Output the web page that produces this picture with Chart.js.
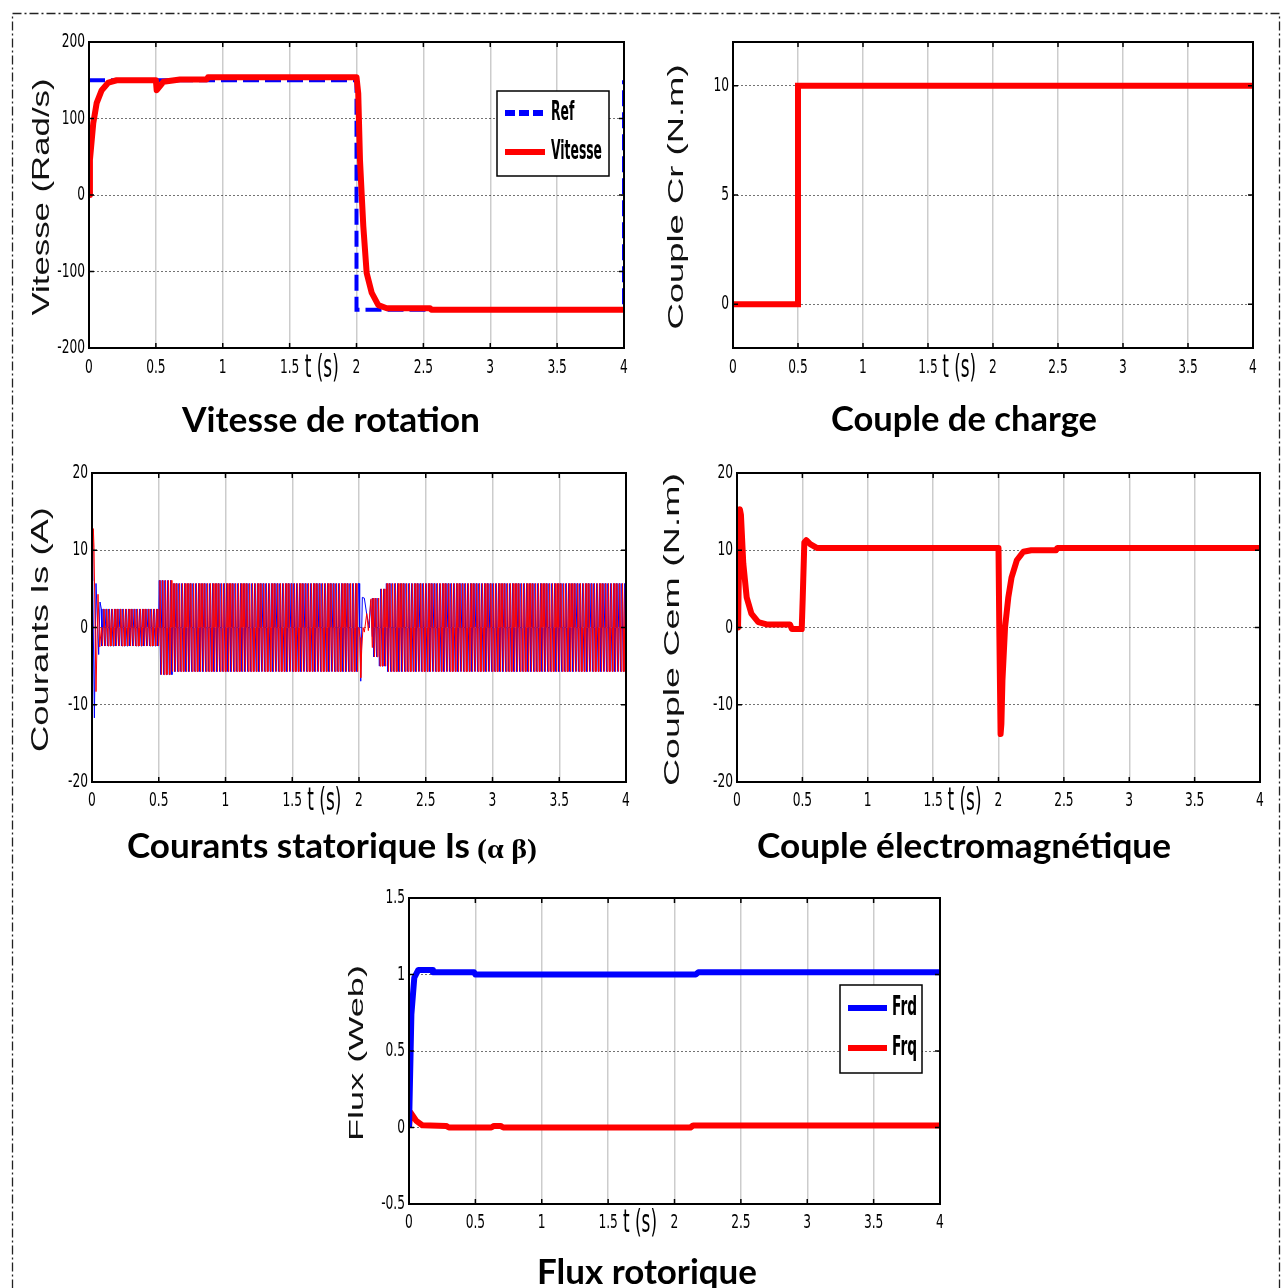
<!DOCTYPE html>
<html lang="fr">
<head>
<meta charset="utf-8">
<title>Résultats de simulation - commande vectorielle</title>
<script src="https://cdn.jsdelivr.net/npm/chart.js@4.4.1/dist/chart.umd.min.js"></script>
<style>
  body { margin: 0; background: #fff; }
  #page { position: relative; width: 1283px; height: 1288px; overflow: hidden; background: #fff; }
  #page canvas { position: absolute; }
</style>
</head>
<body>
<div id="page">
  <canvas id="cadre" width="1283" height="1288" style="left:0;top:0"></canvas>
  <canvas id="graphe-vitesse"></canvas>
  <canvas id="graphe-cr"></canvas>
  <canvas id="graphe-is"></canvas>
  <canvas id="graphe-cem"></canvas>
  <canvas id="graphe-flux"></canvas>
</div>
<script>
// Valeurs
const ticksTemps = [0, 0.5, 1, 1.5, 2, 2.5, 3, 3.5, 4];

// Vitesse de rotation
const tempsRef = [0, 2, 2, 4, 4];
const vitesseRef = [150, 150, -150, -150, 150];
const tempsVitesse = [0, 0.007, 0.032, 0.057, 0.095, 0.145, 0.207, 0.5, 0.506, 0.556, 0.68, 0.88, 0.89, 2.0, 2.013, 2.026, 2.039, 2.051, 2.076, 2.114, 2.163, 2.226, 2.55, 2.56, 4];
const vitesseMesuree = [0, 46, 94, 120, 137, 147, 150, 150, 137, 148, 151, 151, 154, 154, 133, 46, 0, -41, -102, -128, -144, -148, -148, -150, -150];
const ticksVitesse = [-200, -100, 0, 100, 200];

// Couple de charge
const tempsCr = [0, 0.5, 0.5, 4];
const coupleCr = [0, 0, 10, 10];
const ticksCr = [0, 5, 10];

// Courants statoriques : transitoires relevés point par point
const tempsIsaDebut = [0, 0.01, 0.015, 0.03, 0.045, 0.058, 0.07];
const isaDebut = [0, 12.8, 10.4, -8.3, 4.3, -2.5, 0];
const tempsIsbDebut = [0, 0.005, 0.018, 0.03, 0.05, 0.06, 0.07];
const isbDebut = [10.9, 6, -11.7, 5.7, -3.5, 3.3, 2.4];
const tempsIsaInv = [2.0, 2.008, 2.013, 2.02, 2.03, 2.04, 2.058, 2.07, 2.09, 2.1];
const isaInv = [0, -1.3, -6.5, -3, 0, -0.6, 1.8, -0.4, 3.7, -2.6];
const tempsIsbInv = [2.0, 2.005, 2.013, 2.025, 2.04, 2.058, 2.077, 2.087, 2.1];
const isbInv = [5.7, 0, -6.95, 3.9, 3.8, 1.7, 0, 3.5, -1.2];
// régime sinusoïdal : enveloppe relevée par tronçon
const periodeIs = 0.021;
const isSegDebut = [0.07, 0.5, 0.6, 2.1, 2.15, 2.2];
const isSegFin = [0.5, 0.6, 2.0, 2.15, 2.2, 4.0];
const isSegAmp = [2.4, 6.1, 5.7, 3.8, 5.0, 5.7];
const ticksIs = [-20, -10, 0, 10, 20];

// Couple électromagnétique
const tempsCem = [0, 0.008, 0.022, 0.03, 0.048, 0.074, 0.11, 0.163, 0.227, 0.405, 0.42, 0.495, 0.503, 0.515, 0.53, 0.56, 0.61, 2.0, 2.006, 2.016, 2.022, 2.03, 2.05, 2.075, 2.1, 2.14, 2.19, 2.25, 2.44, 2.45, 4];
const coupleCem = [0, 0, 15.3, 14.6, 8.3, 3.9, 1.8, 0.7, 0.4, 0.4, -0.2, -0.2, 4, 11.0, 11.3, 10.8, 10.3, 10.3, 0, -13.8, -12.5, -6.9, 0, 3.9, 6.5, 8.7, 9.8, 10.0, 10.0, 10.3, 10.3];
const ticksCem = [-20, -10, 0, 10, 20];

// Flux rotorique
const tempsFrd = [0, 0.018, 0.04, 0.07, 0.176, 0.18, 0.49, 0.5, 2.16, 2.18, 4];
const fluxFrd = [0, 0.74, 0.98, 1.03, 1.03, 1.015, 1.015, 1.0, 1.0, 1.015, 1.015];
const tempsFrq = [0, 0.01, 0.055, 0.1, 0.28, 0.3, 0.62, 0.64, 0.69, 0.71, 2.12, 2.14, 4];
const fluxFrq = [0, 0.1, 0.043, 0.015, 0.01, 0, 0, 0.01, 0.01, 0, 0, 0.013, 0.013];
const ticksFlux = [-0.5, 0, 0.5, 1, 1.5];

const POLICE_ETROITE = "'Liberation Sans Narrow', 'DejaVu Sans Condensed', sans-serif";
const POLICE_TITRE = "bold 34px Lato, 'Open Sans', sans-serif";
const ROUGE = '#ff0000';
const BLEU = '#0000ff';

function points(xs, ys) {
    return xs.map((x, i) => ({ x: x, y: ys[i] }));
}

// quart de période : 0, +A, 0, -A pour alpha et +A, 0, -A, 0 pour beta
const motifAlpha = [0, 1, 0, -1];
const motifBeta = [1, 0, -1, 0];
function oscillation(motif) {
    const pas = periodeIs / 4;
    const pts = [];
    isSegDebut.forEach((debut, s) => {
        for (let k = Math.ceil(debut / pas - 1e-9); k * pas < isSegFin[s] - 1e-9; k++) {
            pts.push({ x: k * pas, y: isSegAmp[s] * motif[k % 4] });
        }
    });
    return pts;
}
function courant(tDebut, vDebut, tInv, vInv, motif) {
    return points(tDebut, vDebut).concat(points(tInv, vInv), oscillation(motif))
        .sort((a, b) => a.x - b.x);
}

// texte étiré horizontalement (largeur visée ou facteur d'échelle)
function texteEtire(ctx, texte, x, y, police, largeur, rotation, align, facteur) {
    ctx.save();
    ctx.font = police;
    ctx.textAlign = align || 'center';
    ctx.textBaseline = 'middle';
    const w = ctx.measureText(texte).width;
    ctx.translate(x, y);
    if (rotation) ctx.rotate(rotation);
    ctx.scale(facteur || largeur / w, 1);
    ctx.fillText(texte, 0, 0);
    ctx.restore();
}

// cadre façon MATLAB, graduations, titres d'axes, t(s), légende et titre sous le graphe
const decor = {
    id: 'decor',
    afterDraw(chart, args, o) {
        const ctx = chart.ctx;
        const a = chart.chartArea;
        const sx = chart.scales.x;
        const sy = chart.scales.y;
        ctx.save();
        ctx.strokeStyle = '#000';
        ctx.lineWidth = 2;
        ctx.strokeRect(a.left, a.top, a.width, a.height);
        ctx.lineWidth = 1.5;
        ctx.beginPath();
        sx.ticks.forEach(t => {
            const x = sx.getPixelForValue(t.value);
            ctx.moveTo(x, a.top); ctx.lineTo(x, a.top + 5);
            ctx.moveTo(x, a.bottom); ctx.lineTo(x, a.bottom - 5);
        });
        sy.ticks.forEach(t => {
            const y = sy.getPixelForValue(t.value);
            ctx.moveTo(a.left, y); ctx.lineTo(a.left + 5, y);
            ctx.moveTo(a.right, y); ctx.lineTo(a.right - 5, y);
        });
        ctx.stroke();

        // étiquettes des graduations (police étroite et haute)
        ctx.fillStyle = '#000';
        const policeTicks = '20px ' + POLICE_ETROITE;
        sx.ticks.forEach(t => {
            texteEtire(ctx, String(t.value), sx.getPixelForValue(t.value), a.bottom + o.dyTicks, policeTicks, 0, 0, 'center', 0.68);
        });
        sy.ticks.forEach(t => {
            texteEtire(ctx, String(t.value), a.left - 4, sy.getPixelForValue(t.value), policeTicks, 0, 0, 'right', 0.68);
        });

        ctx.fillStyle = '#111';
        const ty = o.titreY;
        texteEtire(ctx, ty.texte, a.left - ty.dx, (a.top + a.bottom) / 2 + 2,
            ty.taille + "px 'Liberation Sans', Arial, sans-serif", ty.longueur, -Math.PI / 2);

        ctx.fillStyle = '#000';
        texteEtire(ctx, 't (s)', sx.getPixelForValue(1.74), a.bottom + o.dyTicks + 1,
            '32px ' + POLICE_ETROITE, 34);

        o.titre.forEach(p => {
            ctx.save();
            ctx.font = p.police || POLICE_TITRE;
            ctx.textAlign = 'left';
            ctx.textBaseline = 'alphabetic';
            const w = ctx.measureText(p.texte).width;
            ctx.translate(a.left + p.x, a.bottom + o.base);
            ctx.scale(p.largeur / w, 1);
            ctx.fillText(p.texte, 0, 0);
            ctx.restore();
        });

        if (o.legende) {
            const L = o.legende;
            const x0 = a.left + L.x;
            const y0 = a.top + L.y;
            ctx.fillStyle = '#fff';
            ctx.fillRect(x0, y0, L.w, L.h);
            ctx.strokeStyle = '#000';
            ctx.lineWidth = 1.5;
            ctx.strokeRect(x0, y0, L.w, L.h);
            ctx.font = 'bold 26px ' + POLICE_ETROITE;
            const echelle = L.refLargeur / ctx.measureText(L.refTexte).width;
            chart.data.datasets.forEach((ds, i) => {
                const y = y0 + L.lignes[i];
                ctx.strokeStyle = ds.borderColor;
                ctx.lineWidth = L.epaisseur;
                ctx.setLineDash(ds.borderDash ? [10, 4] : []);
                ctx.beginPath();
                ctx.moveTo(x0 + L.trait[0], y);
                ctx.lineTo(x0 + L.trait[1], y);
                ctx.stroke();
                ctx.setLineDash([]);
                ctx.save();
                ctx.translate(x0 + L.texteX, y);
                ctx.scale(echelle, 1);
                ctx.fillStyle = '#000';
                ctx.textAlign = 'left';
                ctx.textBaseline = 'middle';
                ctx.fillText(ds.label, 0, 0);
                ctx.restore();
            });
        }
        ctx.restore();
    }
};

// cadre = [gauche, haut, largeur, hauteur] du canvas ; zone = [gauche, haut, droite, bas] du tracé
function creerGraphique(id, cadre, zone, datasets, axeY, decorOpts) {
    const canvas = document.getElementById(id);
    canvas.width = cadre[2];
    canvas.height = cadre[3];
    canvas.style.left = cadre[0] + 'px';
    canvas.style.top = cadre[1] + 'px';
    const hauteurX = 30;
    return new Chart(canvas.getContext('2d'), {
        type: 'line',
        data: { datasets: datasets },
        options: {
            responsive: false,
            animation: false,
            events: [],
            layout: {
                padding: {
                    left: 0,
                    top: zone[1] - cadre[1],
                    right: cadre[0] + cadre[2] - zone[2],
                    bottom: cadre[1] + cadre[3] - zone[3] - hauteurX
                }
            },
            elements: { point: { radius: 0 }, line: { tension: 0, borderJoinStyle: 'round' } },
            plugins: {
                legend: { display: false },
                tooltip: { enabled: false },
                decor: decorOpts
            },
            scales: {
                x: {
                    type: 'linear',
                    min: 0,
                    max: 4,
                    afterBuildTicks: s => { s.ticks = ticksTemps.map(v => ({ value: v })); },
                    afterFit: s => { s.height = hauteurX; },
                    grid: { color: 'rgba(0,0,0,0.2)', lineWidth: 1.5, drawTicks: false },
                    border: { display: false },
                    ticks: { display: false }
                },
                y: {
                    min: axeY.min,
                    max: axeY.max,
                    afterBuildTicks: s => { s.ticks = axeY.ticks.map(v => ({ value: v })); },
                    afterFit: s => { s.width = zone[0] - cadre[0]; },
                    grid: { color: 'rgba(0,0,0,0.55)', lineWidth: 1, drawTicks: false },
                    border: { display: false, dash: [2, 2] },
                    ticks: { display: false }
                }
            }
        },
        plugins: [decor]
    });
}

// Vitesse de rotation
creerGraphique('graphe-vitesse', [14, 20, 622, 425], [89, 42, 624, 348], [
    { label: 'Ref', data: points(tempsRef, vitesseRef), borderColor: BLEU, borderWidth: 4, borderDash: [16, 6], borderJoinStyle: 'miter', order: 1 },
    { label: 'Vitesse', data: points(tempsVitesse, vitesseMesuree), borderColor: ROUGE, borderWidth: 6, order: 0 }
], { min: -200, max: 200, ticks: ticksVitesse }, {
    dyTicks: 20,
    titreY: { texte: 'Vitesse (Rad/s)', taille: 24, longueur: 237, dx: 47 },
    titre: [{ texte: 'Vitesse de rotation', x: 93, largeur: 298 }],
    base: 84,
    legende: { x: 408, y: 49, w: 112, h: 85, trait: [8, 48], texteX: 54, lignes: [22, 61], epaisseur: 6, refTexte: 'Vitesse', refLargeur: 51 }
});

// Couple de charge
creerGraphique('graphe-cr', [646, 20, 630, 425], [733, 42, 1253, 348], [
    { label: 'Cr', data: points(tempsCr, coupleCr), borderColor: ROUGE, borderWidth: 6, borderJoinStyle: 'miter' }
], { min: -2, max: 12, ticks: ticksCr }, {
    dyTicks: 20,
    titreY: { texte: 'Couple Cr (N.m)', taille: 22, longueur: 265, dx: 56 },
    titre: [{ texte: 'Couple de charge', x: 98, largeur: 266 }],
    base: 83
});

// Courants statoriques
creerGraphique('graphe-is', [14, 450, 626, 420], [92, 473, 626, 782], [
    { label: 'Isα', data: courant(tempsIsaDebut, isaDebut, tempsIsaInv, isaInv, motifAlpha), borderColor: ROUGE, borderWidth: 1 },
    { label: 'Isβ', data: courant(tempsIsbDebut, isbDebut, tempsIsbInv, isbInv, motifBeta), borderColor: BLEU, borderWidth: 1 }
], { min: -20, max: 20, ticks: ticksIs }, {
    dyTicks: 19,
    titreY: { texte: 'Courants Is (A)', taille: 24, longueur: 245, dx: 51 },
    titre: [
        { texte: 'Courants statorique Is', x: 35, largeur: 343 },
        { texte: '(α β)', x: 385, largeur: 60, police: "bold 28px 'Liberation Serif', serif" }
    ],
    base: 76
});

// Couple électromagnétique
creerGraphique('graphe-cem', [646, 450, 630, 420], [737, 473, 1260, 782], [
    { label: 'Cem', data: points(tempsCem, coupleCem), borderColor: ROUGE, borderWidth: 6 }
], { min: -20, max: 20, ticks: ticksCem }, {
    dyTicks: 19,
    titreY: { texte: 'Couple Cem (N.m)', taille: 22, longueur: 313, dx: 64 },
    titre: [{ texte: 'Couple électromagnétique', x: 20, largeur: 414 }],
    base: 76
});

// Flux rotorique
creerGraphique('graphe-flux', [330, 880, 630, 408], [409, 898, 940, 1204], [
    { label: 'Frd', data: points(tempsFrd, fluxFrd), borderColor: BLEU, borderWidth: 6 },
    { label: 'Frq', data: points(tempsFrq, fluxFrq), borderColor: ROUGE, borderWidth: 6 }
], { min: -0.5, max: 1.5, ticks: ticksFlux }, {
    dyTicks: 19,
    titreY: { texte: 'Flux (Web)', taille: 21, longueur: 176, dx: 52 },
    titre: [{ texte: 'Flux rotorique', x: 128, largeur: 220 }],
    base: 80,
    legende: { x: 431, y: 87, w: 82, h: 88, trait: [8, 47], texteX: 52, lignes: [23, 63], epaisseur: 6, refTexte: 'Frd', refLargeur: 25 }
});

// bordure en trait mixte autour de la figure
const ctxCadre = document.getElementById('cadre').getContext('2d');
ctxCadre.setLineDash([9, 3, 2, 3]);
ctxCadre.lineWidth = 1.3;
ctxCadre.strokeStyle = '#222';
ctxCadre.strokeRect(12.5, 13.5, 1267, 1300);
</script>
</body>
</html>
